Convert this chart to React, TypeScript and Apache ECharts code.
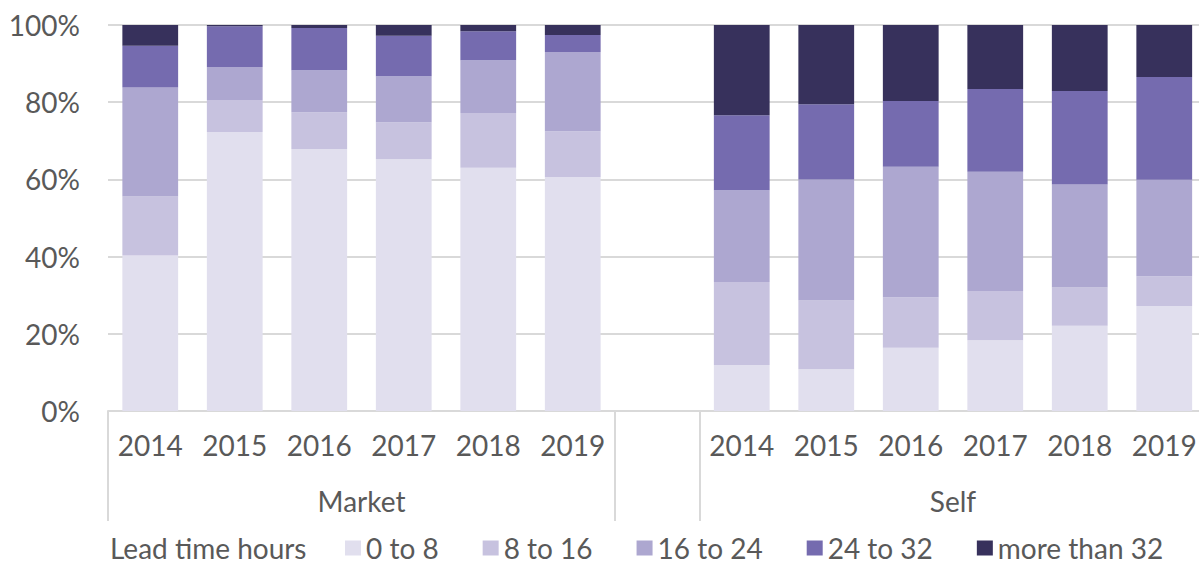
import React, { useEffect, useRef } from "react";
import * as echarts from "echarts";

const groups = ["Market", "Self"];
const years = ["2014", "2015", "2016", "2017", "2018", "2019"];
const seriesNames = ["0 to 8", "8 to 16", "16 to 24", "24 to 32", "more than 32"];
const colors = ["#E1DFEE", "#C7C2DF", "#ADA7D0", "#756BAF", "#37315C"];
const yTicks = [0, 20, 40, 60, 80, 100];

// Market 2014..2019, (gap), Self 2014..2019 — percentages
const market0to8 = [40.3, 72.3, 67.9, 65.2, 63.0, 60.6];
const market8to16 = [15.3, 8.3, 9.5, 9.6, 14.2, 11.9];
const market16to24 = [28.2, 8.5, 10.9, 11.9, 13.7, 20.5];
const market24to32 = [10.8, 10.6, 10.9, 10.5, 7.5, 4.4];
const marketOver32 = [5.4, 0.3, 0.8, 2.8, 1.6, 2.6];

const self0to8 = [11.9, 10.8, 16.4, 18.3, 22.1, 27.2];
const self8to16 = [21.5, 17.8, 13.1, 12.8, 9.9, 7.7];
const self16to24 = [23.8, 31.4, 33.8, 30.9, 26.7, 25.0];
const self24to32 = [19.4, 19.5, 17.0, 21.4, 24.2, 26.6];
const selfOver32 = [23.4, 20.5, 19.7, 16.6, 17.1, 13.5];

const marketSeries = [market0to8, market8to16, market16to24, market24to32, marketOver32];
const selfSeries = [self0to8, self8to16, self16to24, self24to32, selfOver32];

const FONT = "Lato";
const TEXT = "#595959";
const LINE = "#D9D9D9";

export default function App() {
  const ref = useRef<HTMLDivElement>(null);
  useEffect(() => {
    if (!ref.current) return;
    const chart = echarts.init(ref.current, null, { renderer: "svg" });

    const categories = [
      ...years.map((y) => `${groups[0]}|${y}`),
      "gap|",
      ...years.map((y) => `${groups[1]}|${y}`),
    ];
    // second level axis: 27 points on boundaries/centres
    const level2 = Array.from({ length: 27 }, (_, i) => `p${i}`);
    const level2Labels: Record<number, string> = { 6: groups[0], 20: groups[1] };
    const boundaryIdx = [0, 12, 14, 26];

    const series = seriesNames.map((name, k) => ({
      name,
      type: "bar",
      stack: "total",
      barCategoryGap: "34%",
      itemStyle: { color: colors[k] },
      data: [...marketSeries[k], null, ...selfSeries[k]],
      xAxisIndex: 0,
    }));

    chart.setOption({
      animation: false,
      textStyle: { fontFamily: FONT },
      grid: { left: 108, top: 25, width: 1098.5, height: 386, containLabel: false },
      xAxis: [
        {
          type: "category",
          position: "bottom",
          data: categories,
          axisLine: { show: true, lineStyle: { color: LINE, width: 2 } },
          axisTick: { show: false },
          axisLabel: {
            interval: 0,
            margin: 20,
            fontSize: 28,
            color: TEXT,
            fontFamily: FONT,
            formatter: (v: string) => v.split("|")[1],
          },
        },
        {
          type: "category",
          position: "bottom",
          boundaryGap: false,
          data: level2,
          axisLine: { show: false },
          axisTick: {
            show: true,
            length: 110,
            interval: (i: number) => boundaryIdx.includes(i),
            lineStyle: { color: LINE, width: 2 },
          },
          axisLabel: {
            interval: (i: number) => level2Labels[i] !== undefined,
            margin: 76,
            fontSize: 28,
            color: TEXT,
            fontFamily: FONT,
            formatter: (_v: string, i: number) => level2Labels[i] || "",
          },
        },
      ],
      yAxis: {
        type: "value",
        min: yTicks[0],
        max: yTicks[yTicks.length - 1],
        interval: 20,
        axisLine: { show: false },
        axisTick: { show: false },
        splitLine: { lineStyle: { color: LINE, width: 2 } },
        axisLabel: {
          formatter: "{value}%",
          margin: 28,
          fontSize: 28,
          color: TEXT,
          fontFamily: FONT,
        },
      },
      legend: {
        data: seriesNames,
        left: 345,
        top: 534,
        padding: 0,
        icon: "rect",
        itemWidth: 16,
        itemHeight: 15,
        itemGap: 44,
        textStyle: { fontSize: 28, lineHeight: 28, color: TEXT, fontFamily: FONT },
      },
      graphic: [
        {
          type: "text",
          left: 110,
          top: 534,
          style: { text: "Lead time hours", fontSize: 28, fill: TEXT, fontFamily: FONT },
        },
      ],
      series,
    });
    return () => chart.dispose();
  }, []);
  return (
    <div
      style={{ position: "fixed", left: 0, top: 0, width: 1199, height: 565, overflow: "hidden", background: "#fff" }}
    >
      <div ref={ref} style={{ width: 1215, height: 565 }} />
    </div>
  );
}
